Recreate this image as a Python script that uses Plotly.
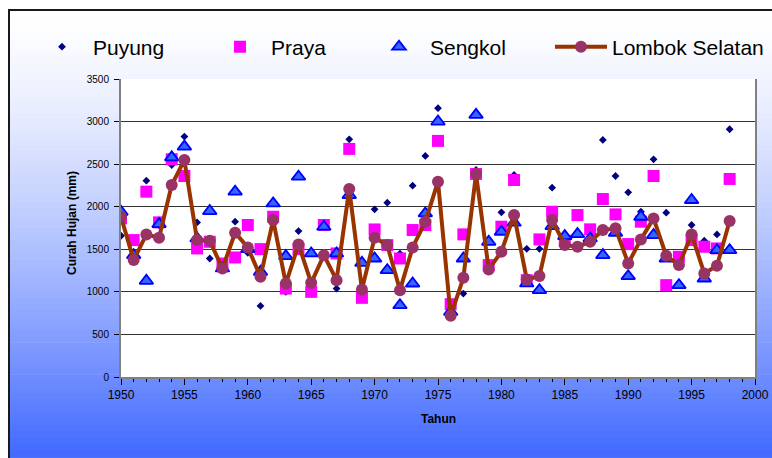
import plotly.graph_objects as go

years = list(range(1950, 1999))

puyung = [1659, 1450, 2306, 1780, 2490, 2824, 1816, 1392, 1300, 1824,
          1459, 835, 1900, 1000, 1714, 1100, 1450, 1039, 2792, 1000,
          1969, 2047, 1450, 2247, 2596, 3157, 750, 980, 2432, 1300,
          1934, 2373, 1505, 1505, 2224, 1600, 1550, 1600, 2785, 2361,
          2169, 1941, 2557, 1930, 1350, 1785, 1600, 1675, 2910]

praya = [1863, 1608, 2177, 1816, 2557, 2361, 1510, 1588, 1333, 1404,
         1785, 1502, 1882, 1039, 1502, 1000, 1785, 1451, 2679, 930,
         1733, 1549, 1392, 1726, 1785, 2773, 855, 1675, 2385, 1314,
         1765, 2314, 1137, 1616, 1941, 1600, 1902, 1734, 2090, 1910,
         1561, 1824, 2361, 1079, 1412, 1608, 1530, 1510, 2326]

sengkol = [1941, 1431, 1130, 1796, 2580, 2706, 1628, 1949, 1275, 2177,
           1502, 1235, 2039, 1420, 2353, 1451, 1765, 1451, 2137, 1341,
           1392, 1255, 843, 1098, 1922, 3000, 765, 1392, 3079, 1588,
           1706, 1812, 1099, 1020, 1773, 1655, 1679, 1628, 1432, 1694,
           1185, 1882, 1667, 1392, 1079, 2079, 1157, 1490, 1490]

lombok = [1882, 1373, 1675, 1635, 2255, 2549, 1608, 1600, 1275, 1694,
          1522, 1177, 1843, 1098, 1557, 1106, 1431, 1137, 2208, 1028,
          1635, 1549, 1020, 1522, 1824, 2294, 718, 1165, 2385, 1263,
          1471, 1902, 1146, 1185, 1844, 1550, 1530, 1589, 1726, 1746,
          1334, 1616, 1863, 1424, 1314, 1675, 1216, 1306, 1832]

x_ticks = [1950, 1955, 1960, 1965, 1970, 1975, 1980, 1985, 1990, 1995, 2000]
y_ticks = [0, 500, 1000, 1500, 2000, 2500, 3000, 3500]

O = 0
W, H = 772, 458
L, T, PW, PH = 121, 79, 634, 298
R = W - L - PW
B = H - T - PH


def px2x(sx):
    return (sx - O - L) / PW


def py2y(sy):
    return (T + PH - (sy - O)) / PH


FONT = "Arial, Liberation Sans, sans-serif"

shapes = []
# gradient background (white at top -> blue at bottom)
top, bottom, n = 10, 470, 72
c0 = (255, 255, 255)
c1 = (56, 98, 255)
for i in range(n):
    y0p = top + (bottom - top) * i / n
    y1p = top + (bottom - top) * (i + 1) / n + 0.6
    t = (i + 0.5) / n
    f = min(1.0, t ** 1.4)
    col = "rgb(%d,%d,%d)" % tuple(round(a + (b - a) * f) for a, b in zip(c0, c1))
    shapes.append(dict(type="rect", xref="paper", yref="paper",
                       x0=px2x(9), x1=px2x(800), y0=py2y(y1p), y1=py2y(y0p),
                       fillcolor=col, line=dict(width=0), layer="below"))
# plot area white
shapes.append(dict(type="rect", xref="paper", yref="paper", x0=0, x1=1, y0=0, y1=1,
                   fillcolor="white", line=dict(width=0), layer="below"))
# outer frame
shapes.append(dict(type="rect", xref="paper", yref="paper",
                   x0=px2x(9), x1=px2x(800), y0=py2y(490), y1=py2y(10),
                   fillcolor="rgba(0,0,0,0)", line=dict(color="#1a1a1a", width=2),
                   layer="below"))

fig = go.Figure()
fig.add_trace(go.Scatter(x=years, y=puyung, name="Puyung", mode="markers",
                         marker=dict(symbol="diamond", size=6, color="#000080",
                                     line=dict(width=0)),
                         legend="legend"))
fig.add_trace(go.Scatter(x=years, y=praya, name="Praya", mode="markers",
                         marker=dict(symbol="square", size=12, color="#FF00FF",
                                     line=dict(width=0)),
                         legend="legend2"))
fig.add_trace(go.Scatter(x=years, y=sengkol, name="Sengkol", mode="markers",
                         marker=dict(symbol="triangle-up", size=12, color="#3366FF",
                                     line=dict(width=1.8, color="#0000FF")),
                         legend="legend3"))
fig.add_trace(go.Scatter(x=years, y=lombok, name="Lombok Selatan", mode="lines+markers",
                         line=dict(color="#993300", width=4),
                         marker=dict(symbol="circle", size=12, color="#993366",
                                     line=dict(width=0)),
                         legend="legend4"))

leg_common = dict(orientation="h", xanchor="left", yanchor="middle", y=py2y(47),
                  bgcolor="rgba(0,0,0,0)", borderwidth=0, itemwidth=52,
                  font=dict(family=FONT, size=21, color="black"))

fig.update_layout(
    width=W, height=H,
    margin=dict(l=L, r=R, t=T, b=B, pad=0, autoexpand=False),
    showlegend=True,
    paper_bgcolor="white",
    plot_bgcolor="white",
    font=dict(family=FONT, color="black"),
    shapes=shapes,
    legend=dict(x=px2x(31), **leg_common),
    legend2=dict(x=px2x(209), **leg_common),
    legend3=dict(x=px2x(368), **leg_common),
    legend4=dict(x=px2x(550), **leg_common),
    xaxis=dict(range=[1950, 2000], tickmode="array", tickvals=x_ticks,
               ticks="outside", ticklen=6, tickwidth=1, tickcolor="black",
               showline=True, linecolor="#808080", linewidth=2,
               showgrid=False, zeroline=False, automargin=False,
               tickfont=dict(family=FONT, size=12, color="black"),
               minor=dict(dtick=1, ticks="outside", ticklen=3, tickwidth=1,
                          tickcolor="black", showgrid=False)),
    yaxis=dict(range=[0, 3500], tickmode="array", tickvals=y_ticks,
               ticks="outside", ticklen=5, tickwidth=1, tickcolor="black",
               showline=True, linecolor="#808080", linewidth=2, mirror=True,
               showgrid=True, gridcolor="#333333", gridwidth=1, zeroline=False,
               automargin=False, ticklabelstandoff=3,
               tickfont=dict(family=FONT, size=10, color="black")),
    annotations=[
        dict(text="<b>Tahun</b>", xref="paper", yref="paper", x=0.5, y=py2y(419),
             xanchor="center", yanchor="middle", showarrow=False,
             font=dict(family=FONT, size=12, color="black")),
        dict(text="<b>Curah Hujan (mm)</b>", xref="paper", yref="paper",
             x=px2x(72), y=py2y(223), xanchor="center", yanchor="middle",
             textangle=-90, showarrow=False,
             font=dict(family=FONT, size=12, color="black")),
    ],
)

fig.write_html("out.html",
               config={"displayModeBar": False},
               post_script="document.body.style.margin='0';"
                           "document.body.style.overflow='hidden';")
